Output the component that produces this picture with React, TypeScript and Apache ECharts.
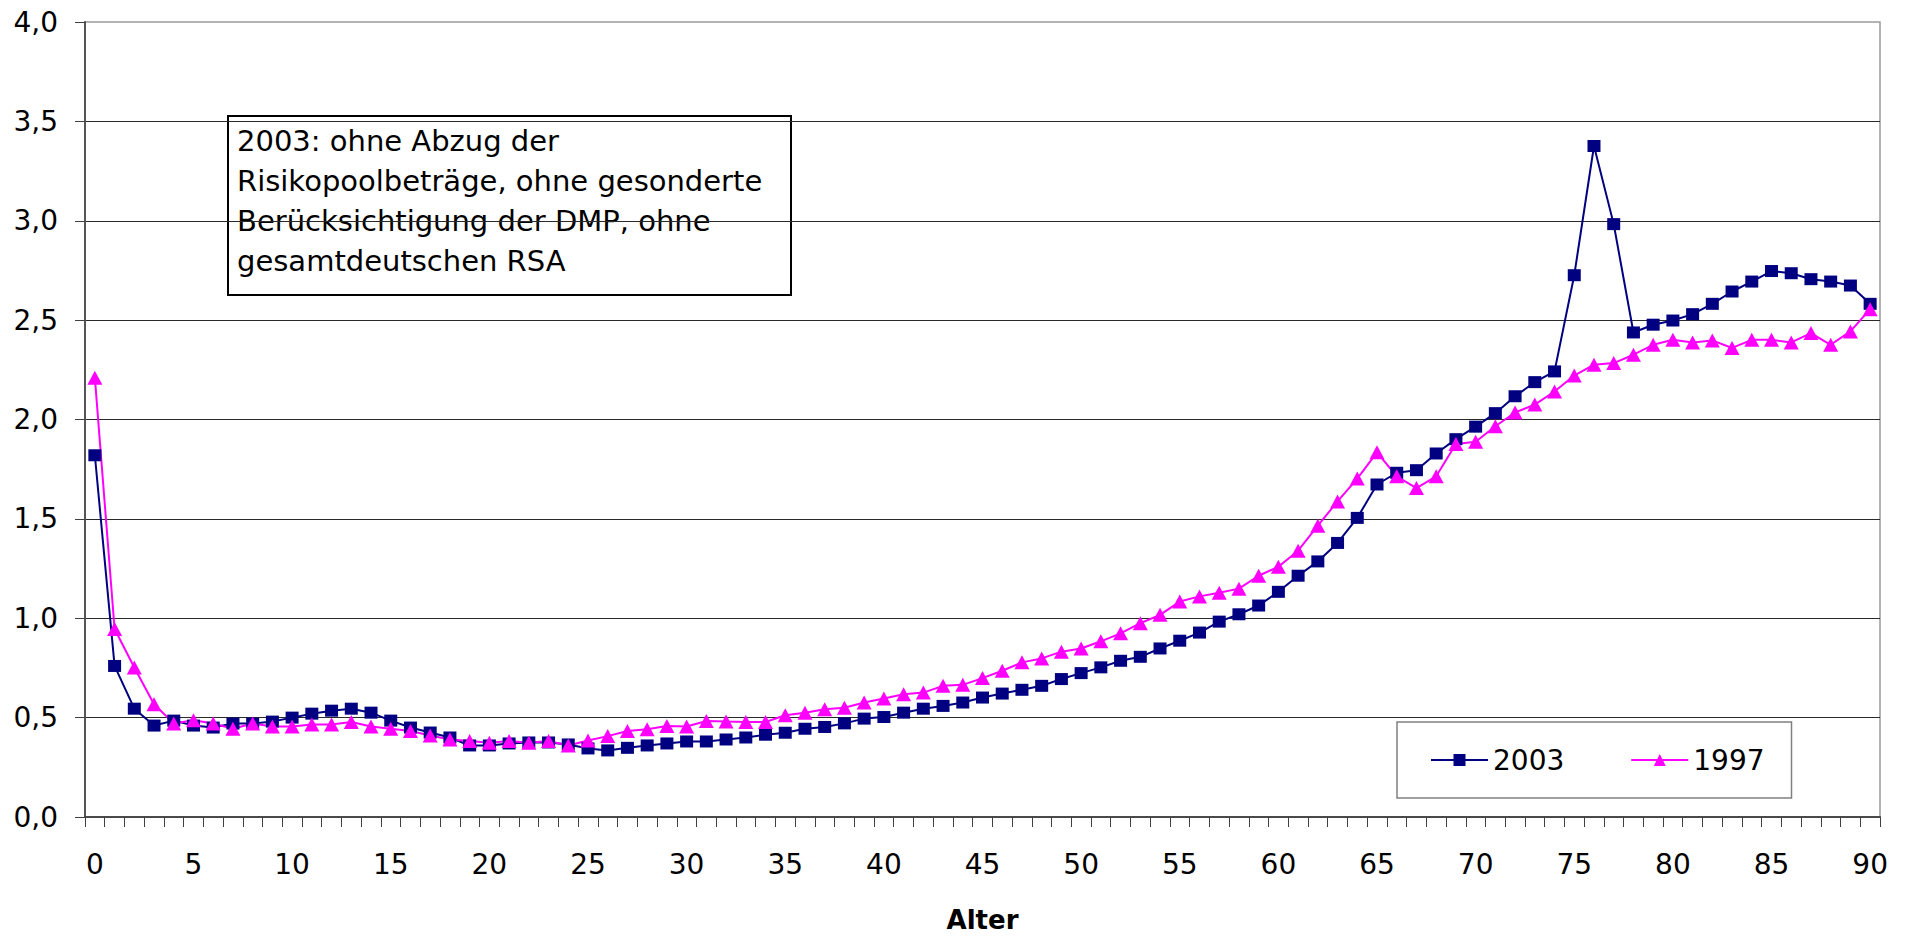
import React, { useEffect, useRef } from "react";
import * as echarts from "echarts";

const ages = [
  "0","1","2","3","4","5","6","7","8","9","10","11","12","13","14","15","16","17","18","19",
  "20","21","22","23","24","25","26","27","28","29","30","31","32","33","34","35","36","37","38","39",
  "40","41","42","43","44","45","46","47","48","49","50","51","52","53","54","55","56","57","58","59",
  "60","61","62","63","64","65","66","67","68","69","70","71","72","73","74","75","76","77","78","79",
  "80","81","82","83","84","85","86","87","88","89","90",
];

const values2003 = [
  1.82, 0.76, 0.545, 0.46, 0.485, 0.46, 0.45, 0.47, 0.47, 0.48,
  0.5, 0.52, 0.535, 0.545, 0.525, 0.485, 0.45, 0.425, 0.4, 0.36,
  0.36, 0.37, 0.375, 0.375, 0.365, 0.345, 0.335, 0.348, 0.36, 0.37,
  0.38, 0.38, 0.39, 0.4, 0.414, 0.424, 0.444, 0.453, 0.471, 0.495,
  0.503, 0.525, 0.545, 0.559, 0.576, 0.601, 0.621, 0.64, 0.66, 0.694,
  0.724, 0.753, 0.786, 0.806, 0.848, 0.887, 0.928, 0.983, 1.02, 1.064,
  1.133, 1.214, 1.286, 1.379, 1.505, 1.673, 1.732, 1.745, 1.829, 1.901,
  1.964, 2.032, 2.117, 2.188, 2.242, 2.726, 3.376, 2.983, 2.438, 2.477,
  2.498, 2.53, 2.582, 2.644, 2.694, 2.747, 2.736, 2.706, 2.694, 2.674, 2.582,
];

const values1997 = [
  2.21, 0.946, 0.752, 0.567, 0.471, 0.487, 0.47, 0.444, 0.47, 0.455,
  0.455, 0.466, 0.466, 0.478, 0.455, 0.444, 0.433, 0.41, 0.39, 0.382,
  0.374, 0.382, 0.374, 0.382, 0.36, 0.385, 0.407, 0.433, 0.441, 0.458,
  0.455, 0.483, 0.48, 0.478, 0.478, 0.512, 0.525, 0.542, 0.55, 0.576,
  0.596, 0.618, 0.626, 0.66, 0.665, 0.699, 0.736, 0.778, 0.798, 0.832,
  0.848, 0.884, 0.924, 0.975, 1.017, 1.084, 1.11, 1.128, 1.149, 1.214,
  1.259, 1.34, 1.466, 1.588, 1.703, 1.835, 1.714, 1.655, 1.714, 1.877,
  1.888, 1.966, 2.035, 2.075, 2.141, 2.221, 2.276, 2.284, 2.326, 2.376,
  2.401, 2.388, 2.398, 2.36, 2.401, 2.401, 2.388, 2.435, 2.376, 2.443, 2.555,
];

const seriesNames = ["2003", "1997"];
const axisName = "Alter";
const noteLines = [
  "2003: ohne Abzug der",
  "Risikopoolbeträge, ohne gesonderte",
  "Berücksichtigung der DMP, ohne",
  "gesamtdeutschen RSA",
];

const FONT = "DejaVu Sans";

export default function App() {
  const ref = useRef<HTMLDivElement>(null);

  useEffect(() => {
    if (!ref.current) return;
    const chart = echarts.init(ref.current, null, { renderer: "svg" });
    chart.setOption({
      animation: false,
      backgroundColor: "#ffffff",
      textStyle: { fontFamily: FONT, color: "#000" },
      grid: {
        left: 85,
        right: 30,
        top: 22,
        bottom: 122,
        show: true,
        borderColor: "#9a9a9a",
        borderWidth: 1.5,
        backgroundColor: "transparent",
      },
      legend: {
        left: 1397,
        top: 722,
        orient: "horizontal",
        data: seriesNames,
        itemWidth: 57,
        itemHeight: 15,
        itemGap: 66,
        padding: [24, 27, 24, 33],
        borderColor: "#808080",
        borderWidth: 1.5,
        backgroundColor: "#fff",
        textStyle: { fontFamily: FONT, fontSize: 28, color: "#000", lineHeight: 28 },
      },
      xAxis: {
        type: "category",
        data: ages,
        boundaryGap: true,
        name: axisName,
        nameLocation: "middle",
        nameGap: 90,
        nameTextStyle: { fontFamily: FONT, fontSize: 26, fontWeight: "bold", color: "#000" },
        axisLine: { show: true, lineStyle: { color: "#4a4a4a", width: 2 } },
        axisTick: { show: true, interval: 0, length: 10, lineStyle: { color: "#404040", width: 1 } },
        axisLabel: { interval: 4, margin: 33, fontFamily: FONT, fontSize: 28, color: "#000" },
        splitLine: { show: false },
      },
      yAxis: {
        type: "value",
        min: 0,
        max: 4,
        interval: 0.5,
        axisLine: { show: true, lineStyle: { color: "#555555", width: 2 } },
        axisTick: { show: true, length: 10, lineStyle: { color: "#404040", width: 1 } },
        axisLabel: {
          margin: 27,
          fontFamily: FONT,
          fontSize: 28,
          color: "#000",
          formatter: (v: number) => v.toFixed(1).replace(".", ","),
        },
        splitLine: { show: true, showMaxLine: false, lineStyle: { color: "#2a2a2a", width: 1 } },
      },
      series: [
        {
          name: seriesNames[0],
          type: "line",
          data: values2003,
          symbol: "rect",
          symbolSize: [13, 12],
          showAllSymbol: true,
          lineStyle: { color: "#000080", width: 2 },
          itemStyle: { color: "#000080" },
        },
        {
          name: seriesNames[1],
          type: "line",
          data: values1997,
          symbol: "triangle",
          symbolSize: [15, 14],
          showAllSymbol: true,
          lineStyle: { color: "#ff00ff", width: 2 },
          itemStyle: { color: "#ff00ff" },
        },
      ],
      graphic: [
        {
          type: "group",
          left: 227,
          top: 115,
          children: [
            {
              type: "rect",
              shape: { x: 0, y: 0, width: 563, height: 179 },
              style: { fill: "#fff", stroke: "#000", lineWidth: 2 },
            },
            {
              type: "text",
              x: 9,
              y: 5,
              style: {
                text: noteLines.join("\n"),
                fontFamily: FONT,
                fontSize: 29,
                lineHeight: 40,
                fill: "#000",
                verticalAlign: "top",
                align: "left",
              },
            },
          ],
        },
      ],
    });
    return () => chart.dispose();
  }, []);

  return <div ref={ref} style={{ width: 1910, height: 939, margin: -8 }} />;
}
